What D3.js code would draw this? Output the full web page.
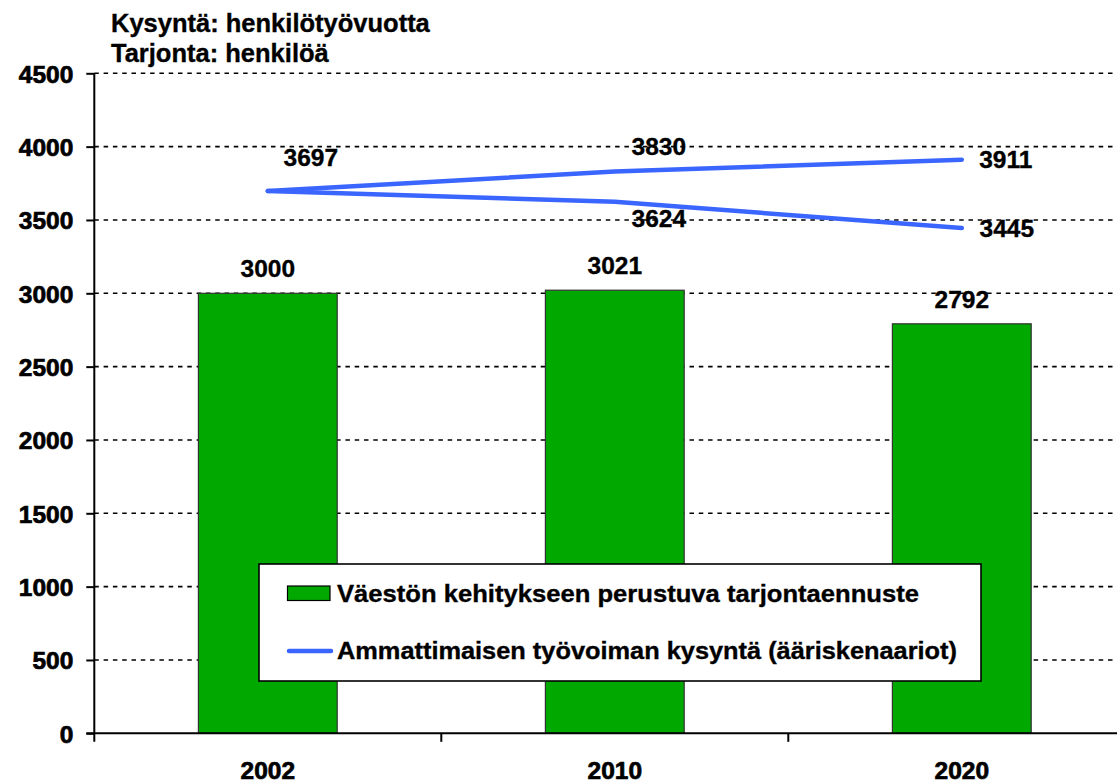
<!DOCTYPE html>
<html>
<head>
<meta charset="utf-8">
<script src="https://cdn.jsdelivr.net/npm/d3@7"></script>
<style>
html,body{margin:0;padding:0;background:#fff;overflow:hidden;}
svg{display:block;}
text{font-family:"Liberation Sans",Arial,sans-serif;font-weight:bold;fill:#000;stroke:#000;stroke-width:0.35px;}
.leg{font-family:"Liberation Sans Narrow","Arial Narrow","Liberation Sans",sans-serif;}
.heavy{stroke-width:0.7px;}
</style>
</head>
<body>
<svg id="c" width="1117" height="783"></svg>
<script>
// ---- data ----
const years = ["2002", "2010", "2020"];
const supply = [3000, 3021, 2792];
const demandHigh = [3697, 3830, 3911];
const demandLow = [3697, 3624, 3445];
const yTicks = [0, 500, 1000, 1500, 2000, 2500, 3000, 3500, 4000, 4500];
const titleLines = ["Kysyntä: henkilötyövuotta", "Tarjonta: henkilöä"];
const legendLabels = ["Väestön kehitykseen perustuva tarjontaennuste", "Ammattimaisen työvoiman kysyntä (ääriskenaariot)"];

const svg = d3.select("#c");
const pLeft = 94.3, pTop = 73.3, pBottom = 733.3, stepW = 347;
const x = d3.scaleBand().domain(years).range([pLeft, pLeft + stepW * years.length]).paddingInner(0.6).paddingOuter(0.3);
const y = d3.scaleLinear().domain([0, 4500]).range([pBottom, pTop]);
const cx = d => x(d) + x.bandwidth() / 2;

// gridlines
svg.append("g").selectAll("line").data(yTicks.filter(t => t > 0)).join("line")
  .attr("x1", pLeft).attr("x2", 1117).attr("y1", d => y(d)).attr("y2", d => y(d))
  .attr("stroke", "#000").attr("stroke-width", 1.6).attr("stroke-dasharray", "4.5,4.8");

// bars
svg.append("g").selectAll("rect").data(years).join("rect")
  .attr("x", d => x(d)).attr("width", x.bandwidth())
  .attr("y", (d, i) => y(supply[i])).attr("height", (d, i) => y(0) - y(supply[i]))
  .attr("fill", "#00A800").attr("stroke", "#333").attr("stroke-width", 1.2);

// axes
const yAxis = svg.append("g").attr("transform", `translate(${pLeft},0)`)
  .call(d3.axisLeft(y).tickValues(yTicks).tickSize(8).tickPadding(13).tickFormat(d3.format("d")));
yAxis.select(".domain").attr("d", `M0,${pTop}V${pBottom + 8.5}`).attr("stroke-width", 2);
yAxis.selectAll(".tick line").attr("stroke-width", 2);
yAxis.selectAll(".tick text").attr("class", "heavy").attr("font-size", 24.5).attr("font-family", null).attr("fill", null).attr("dy", "0.36em");

const xAxis = svg.append("g").attr("transform", `translate(0,${pBottom})`);
xAxis.append("line").attr("x1", pLeft - 8).attr("x2", 1117).attr("y1", 0).attr("y2", 0).attr("stroke", "#000").attr("stroke-width", 2);
xAxis.selectAll("line.tk").data(years.slice(1)).join("line").attr("class", "tk")
  .attr("x1", d => x(d) - x.step() * 0.3).attr("x2", d => x(d) - x.step() * 0.3)
  .attr("y1", 0).attr("y2", 8.5).attr("stroke", "#000").attr("stroke-width", 2);
xAxis.selectAll("text").data(years).join("text").attr("class", "heavy")
  .attr("x", d => cx(d)).attr("y", 46).attr("text-anchor", "middle").attr("font-size", 24.5).text(d => d);

// lines
const line = d3.line().x((d, i) => cx(years[i])).y(d => y(d));
[demandHigh, demandLow].forEach(s => {
  svg.append("path").attr("d", line(s)).attr("fill", "none")
    .attr("stroke", "#3A66FF").attr("stroke-width", 4.5).attr("stroke-linecap", "round").attr("stroke-linejoin", "round");
});

// data labels
const lab = (tx, ty, t) => svg.append("text").attr("x", tx).attr("y", ty).attr("text-anchor", "middle").attr("font-size", 24.5).text(t);
years.forEach((d, i) => lab(cx(d), y(supply[i]) - 16, supply[i]));
lab(cx(years[0]) + 43, y(demandHigh[0]) - 25.5, demandHigh[0]);
lab(cx(years[1]) + 44, y(demandHigh[1]) - 17, demandHigh[1]);
lab(cx(years[1]) + 44, y(demandLow[1]) + 25, demandLow[1]);
lab(cx(years[2]) + 44, y(demandHigh[2]) + 8, demandHigh[2]);
lab(cx(years[2]) + 45, y(demandLow[2]) + 9, demandLow[2]);

// title
titleLines.forEach((t, i) => svg.append("text").attr("x", 111).attr("y", 32 + i * 30).attr("font-size", 25.5).text(t));

// legend
const lg = svg.append("g");
lg.append("rect").attr("x", 259).attr("y", 564).attr("width", 722).attr("height", 117)
  .attr("fill", "#fff").attr("stroke", "#000").attr("stroke-width", 1.6);
lg.append("rect").attr("x", 287.5).attr("y", 586).attr("width", 42.5).attr("height", 14.5)
  .attr("fill", "#00A800").attr("stroke", "#000").attr("stroke-width", 1.2);
lg.append("line").attr("x1", 289).attr("x2", 331).attr("y1", 651).attr("y2", 651)
  .attr("stroke", "#3A66FF").attr("stroke-width", 4.5).attr("stroke-linecap", "round");
const legEnds = [919, 957];
legendLabels.forEach((t, i) => lg.append("text").attr("class", "leg").attr("x", 337).attr("y", 601.5 + i * 57.5)
  .attr("font-size", 24).attr("textLength", legEnds[i] - 337).attr("lengthAdjust", "spacingAndGlyphs").text(t));
</script>
</body>
</html>
